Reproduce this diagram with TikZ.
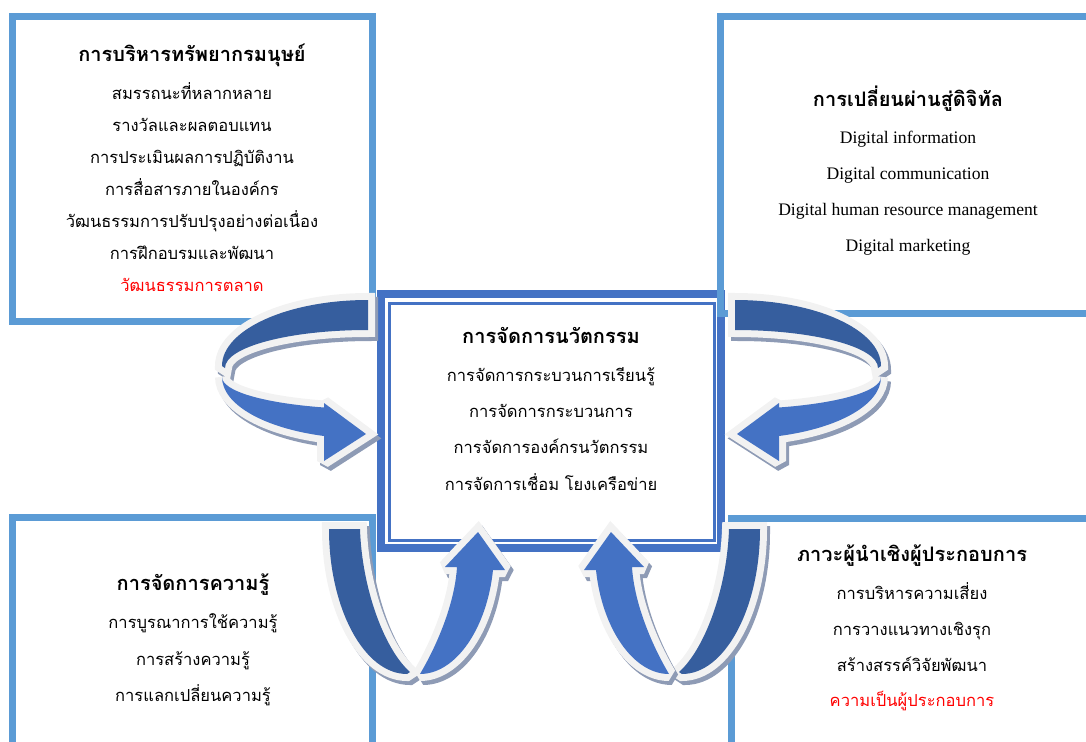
\documentclass[tikz,border=0pt]{standalone}
\usepackage{fontspec}
\setmainfont{Liberation Serif}
\newfontfamily\thaifont[Script=Thai]{Loma}

\definecolor{sideblue}{HTML}{5B9BD5}
\definecolor{mainblue}{HTML}{4472C4}
\definecolor{deepblue}{HTML}{365E9E}
\definecolor{rim}{HTML}{F2F2F2}
\definecolor{shade}{HTML}{8E9BB5}

% halves of the curled arrows (pixel coordinates, y down)
\newcommand\backloop{(368,300) .. controls (287,300) and (222,330) .. (222,366)
  -- (225,368) .. controls (225,347) and (289,330) .. (368,330) -- cycle}
\newcommand\frontloop{(222,377) .. controls (222,391) and (263,403) .. (324,407.5)
  -- (324,403) -- (366,434) -- (324,461) -- (324,436)
  .. controls (263,428) and (222,404) .. (222,377) -- cycle}
\newcommand\backdip{(329,529) .. controls (329,608) and (364,674) .. (407,674)
  -- (410,672) .. controls (385,650) and (362,590) .. (360,529) -- cycle}
\newcommand\frontdip{(420,674) .. controls (440,640) and (455,600) .. (457,567)
  -- (445,567) -- (478,532) -- (505,570) -- (493,570)
  .. controls (487,628) and (456,674) .. (420,674) -- cycle}

% shadow, back half, shadow, front half
\newcommand\curlarrow[3]{%
  \begin{scope}[shift={(3,4)},#1] \path[drop] #2; \end{scope}
  \begin{scope}[#1] \path[ribbon=deepblue] #2; \end{scope}
  \begin{scope}[shift={(3,4)},#1] \path[drop] #3; \end{scope}
  \begin{scope}[#1] \path[ribbon=mainblue] #3; \end{scope}}

\begin{document}
\begin{tikzpicture}[x=0.75pt,y=-0.75pt,
  frame/.style={draw=sideblue,line width=5.25pt},
  ribbon/.style={fill=#1,preaction={draw=rim,line width=10.5pt,line join=miter,miter limit=2}},
  drop/.style={fill=shade,draw=shade,line width=10.5pt,line join=miter,miter limit=2},
  block/.style={anchor=base,align=center,inner sep=0pt}]
\useasboundingbox (0,0) rectangle (1086,742);
\clip (0,0) rectangle (1086,742);

% centre box with double border
\draw[mainblue,line width=6pt] (381,294) rectangle (721,548);
\draw[mainblue,line width=2.25pt] (389.5,303) rectangle (714.5,540);

% four side boxes
\draw[frame] (12,16.7) rectangle (372.5,321.5);
\draw[frame] (720.3,17) rectangle (1100,313.7);
\draw[frame] (12,517) rectangle (372.5,760);
\draw[frame] (731.7,518.3) rectangle (1100,760);

% curled arrows into the centre box
\curlarrow{}{\backloop}{\frontloop}
\curlarrow{shift={(1103,0)},xscale=-1}{\backloop}{\frontloop}
\curlarrow{}{\backdip}{\frontdip}
\curlarrow{shift={(1089,0)},xscale=-1}{\backdip}{\frontdip}

% texts, each placed by the baseline of its last line
\node[block,font=\thaifont\fontsize{12.4}{24}\selectfont] (hrm) at (192,291.7)
  {{\bfseries\fontsize{15}{24}\selectfont การบริหารทรัพยากรมนุษย์}\\[4.9pt]
   สมรรถนะที่หลากหลาย\\
   รางวัลและผลตอบแทน\\
   การประเมินผลการปฏิบัติงาน\\
   การสื่อสารภายในองค์กร\\
   วัฒนธรรมการปรับปรุงอย่างต่อเนื่อง\\
   การฝึกอบรมและพัฒนา\\
   \textcolor{red}{วัฒนธรรมการตลาด}};

\node[block,font=\fontsize{13.2}{27}\selectfont] (digital) at (908,251.7)
  {{\thaifont\bfseries\fontsize{15}{27}\selectfont การเปลี่ยนผ่านสู่ดิจิทัล}\\[1pt]
   Digital information\\
   Digital communication\\
   Digital human resource management\\
   Digital marketing};

\node[block,font=\thaifont\fontsize{12.4}{27.1}\selectfont] (innov) at (551,490)
  {{\bfseries\fontsize{15}{27.1}\selectfont การจัดการนวัตกรรม}\\[1.7pt]
   การจัดการกระบวนการเรียนรู้\\
   การจัดการกระบวนการ\\
   การจัดการองค์กรนวัตกรรม\\
   การจัดการเชื่อม โยงเครือข่าย};

\node[block,font=\thaifont\fontsize{12.4}{27.5}\selectfont] (knowledge) at (193,701.7)
  {{\bfseries\fontsize{15}{27.5}\selectfont การจัดการความรู้}\\[0.7pt]
   การบูรณาการใช้ความรู้\\
   การสร้างความรู้\\
   การแลกเปลี่ยนความรู้};

\node[block,font=\thaifont\fontsize{12.4}{26.7}\selectfont] (entre) at (912,706.7)
  {{\bfseries\fontsize{15}{26.7}\selectfont ภาวะผู้นำเชิงผู้ประกอบการ}\\[2pt]
   การบริหารความเสี่ยง\\
   การวางแนวทางเชิงรุก\\
   สร้างสรรค์วิจัยพัฒนา\\
   \textcolor{red}{ความเป็นผู้ประกอบการ}};
\end{tikzpicture}
\end{document}
